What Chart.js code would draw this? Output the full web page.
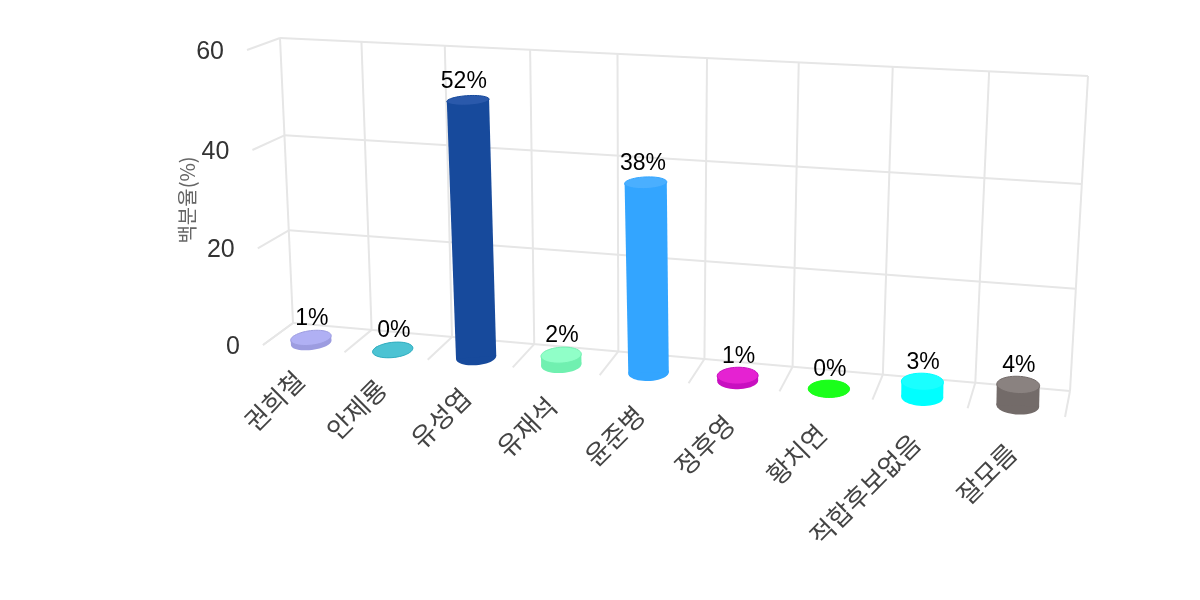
<!DOCTYPE html>
<html>
<head>
<meta charset="utf-8">
<style>
  html, body { margin: 0; padding: 0; background: #fff; }
  canvas { display: block; }
</style>
<script src="https://cdn.jsdelivr.net/npm/chart.js@4/dist/chart.umd.min.js"></script>
</head>
<body>
<canvas id="chart" width="1200" height="600"></canvas>
<script>
const categories = ["권희철", "안제룡", "유성엽", "유재석", "윤준병", "정후영", "황치연", "적합후보없음", "잘모름"];
const values = [1, 0, 51.6, 2, 37.6, 1, 0, 3, 4];
const valueTicks = [0, 20, 40, 60];
const yTitle = "백분율(%)";

const sideColors = ["#9c9ce0", "#33aec0", "#174a9c", "#70f0b0", "#33a5ff", "#c80fc0", "#1aff1a", "#00ffff", "#736b69"];
const topColors = ["#b0b0f4", "#4cc3d3", "#2a59ab", "#90ffc8", "#4aafff", "#e522d2", "#1aff1a", "#1affff", "#8a8280"];

const GRID = "#e6e6e6";
const KR_FONT = '"Noto Sans CJK KR", "Noto Sans", sans-serif';
const LATIN_FONT = '"Liberation Sans", Arial, sans-serif';

// view of the 3d box: corners of the back wall and the front plane on screen
const backWall = { tl: [280, 38], tr: [1088, 76], br: [1070, 391], bl: [293, 323] };
const frontWall = { tl: [247, 50], tr: [1070, 92], br: [1065, 417], bl: [263, 345] };
const BAR_DEPTH = 0.27; // 0 = front, 1 = back
const RING_U = 0.22;
const RING_D = 0.34;

// unit square -> quad
function homography(q) {
  const [x0, y0] = q.bl, [x1, y1] = q.br, [x2, y2] = q.tr, [x3, y3] = q.tl;
  const dx1 = x1 - x2, dx2 = x3 - x2, sx = x0 - x1 + x2 - x3;
  const dy1 = y1 - y2, dy2 = y3 - y2, sy = y0 - y1 + y2 - y3;
  const det = dx1 * dy2 - dx2 * dy1;
  const g = (sx * dy2 - dx2 * sy) / det;
  const h = (dx1 * sy - sx * dy1) / det;
  const a = x1 - x0 + g * x1, b = x3 - x0 + h * x3;
  const d = y1 - y0 + g * y1, e = y3 - y0 + h * y3;
  return (s, t) => {
    const w = g * s + h * t + 1;
    return [(a * s + b * t + x0) / w, (d * s + e * t + y0) / w];
  };
}
const backMap = homography(backWall);
const frontMap = homography(frontWall);

// u is a category position, v a value, depth 0..1
function project(chart, u, v, depth) {
  const s = u / categories.length;
  const y = chart.scales.y;
  const t = (v - y.min) / (y.max - y.min);
  const f = frontMap(s, t), b = backMap(s, t);
  return [f[0] + (b[0] - f[0]) * depth, f[1] + (b[1] - f[1]) * depth];
}

function segment(ctx, p, q) {
  ctx.beginPath();
  ctx.moveTo(p[0], p[1]);
  ctx.lineTo(q[0], q[1]);
  ctx.stroke();
}

function ring(chart, u, v) {
  const pts = [];
  for (let i = 0; i < 48; i++) {
    const a = (i / 48) * Math.PI * 2;
    pts.push(project(chart, u + RING_U * Math.cos(a), v, BAR_DEPTH + RING_D * Math.sin(a)));
  }
  return pts;
}

function fillPoly(ctx, pts, color) {
  ctx.fillStyle = color;
  ctx.beginPath();
  pts.forEach((p, i) => (i ? ctx.lineTo(p[0], p[1]) : ctx.moveTo(p[0], p[1])));
  ctx.closePath();
  ctx.fill();
}

const box3d = {
  id: "box3d",
  beforeDatasetsDraw(chart) {
    const ctx = chart.ctx;
    const n = categories.length;
    const yTickValues = chart.scales.y.ticks.map((t) => t.value);
    ctx.save();
    ctx.strokeStyle = GRID;
    ctx.lineWidth = 2;
    yTickValues.forEach((v) => {
      segment(ctx, project(chart, 0, v, 0), project(chart, 0, v, 1));
      segment(ctx, project(chart, 0, v, 1), project(chart, n, v, 1));
    });
    for (let u = 0; u <= n; u++) {
      segment(ctx, project(chart, u, 0, 1), project(chart, u, 60, 1));
      segment(ctx, project(chart, u, 0, 0), project(chart, u, 0, 1));
    }
    ctx.restore();
  },
  afterDatasetsDraw(chart) {
    const ctx = chart.ctx;
    const xs = chart.scales.x, ys = chart.scales.y;
    const area = chart.chartArea;
    const n = categories.length;
    ctx.save();
    chart.getDatasetMeta(0).data.forEach((bar, i) => {
      const u = ((bar.x - area.left) / (area.right - area.left)) * n;
      const v = ys.getValueForPixel(bar.y);
      const base = ring(chart, u, 0);
      const top = ring(chart, u, v);
      const edge = (pts, pick) => pts.reduce((m, p) => (pick(p[0], m[0]) ? p : m));
      fillPoly(ctx, base, sideColors[i]);
      fillPoly(ctx, [
        edge(top, (a, b) => a < b),
        edge(top, (a, b) => a > b),
        edge(base, (a, b) => a > b),
        edge(base, (a, b) => a < b),
      ], sideColors[i]);
      fillPoly(ctx, top, topColors[i]);
      ctx.strokeStyle = sideColors[i];
      ctx.lineWidth = 1;
      ctx.stroke();
      // data label
      const c = project(chart, u, v, BAR_DEPTH);
      ctx.fillStyle = "#000";
      ctx.font = "23px " + LATIN_FONT;
      ctx.textAlign = "center";
      ctx.textBaseline = "middle";
      ctx.fillText(Math.round(values[i]) + "%", c[0] + 1 - 0.1 * v, c[1] - 19);
    });
    // category labels
    ctx.fillStyle = "#444";
    ctx.font = "26px " + KR_FONT;
    ctx.textAlign = "right";
    ctx.textBaseline = "middle";
    xs.getLabels().forEach((label, i) => {
      const p = project(chart, i + 0.5, 0, 0);
      ctx.save();
      ctx.translate(p[0] - 4, p[1] + 27 + i * 1.1);
      ctx.rotate(-Math.PI / 4);
      ctx.fillText(label, 0, 0);
      ctx.restore();
    });
    // value axis labels
    ctx.fillStyle = "#333";
    ctx.font = "25px " + LATIN_FONT;
    ctx.textAlign = "right";
    ys.ticks.forEach((t) => {
      const p = project(chart, 0, t.value, 0);
      ctx.fillText(t.label, p[0] - 23, p[1] + 2);
    });
    // axis title
    ctx.save();
    ctx.translate(187, 200);
    ctx.rotate(-Math.PI / 2);
    ctx.fillStyle = "#666";
    ctx.font = "20px " + KR_FONT;
    ctx.textAlign = "center";
    ctx.fillText(yTitle, 0, 0);
    ctx.restore();
    ctx.restore();
  },
};

new Chart(document.getElementById("chart"), {
  type: "bar",
  data: {
    labels: categories,
    datasets: [{ data: values, backgroundColor: "transparent", borderWidth: 0 }],
  },
  options: {
    responsive: false,
    animation: false,
    plugins: { legend: { display: false }, tooltip: { enabled: false } },
    scales: {
      x: { display: false },
      y: {
        display: false,
        min: 0,
        max: 60,
        afterBuildTicks(scale) {
          scale.ticks = valueTicks.map((value) => ({ value, label: String(value) }));
        },
      },
    },
  },
  plugins: [box3d],
});
</script>
</body>
</html>
